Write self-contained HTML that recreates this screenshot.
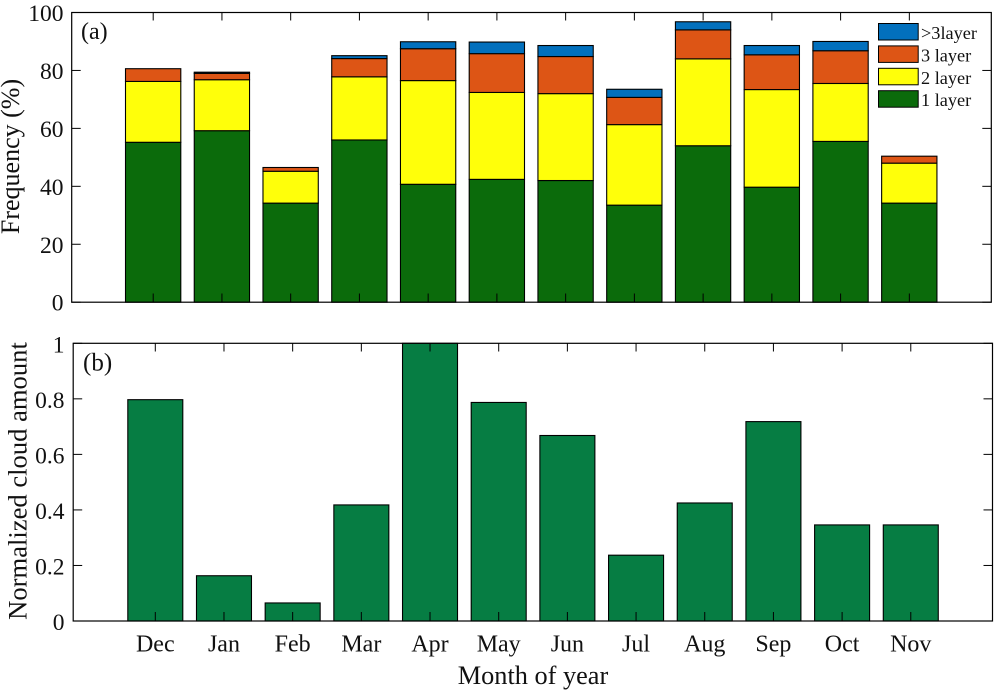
<!DOCTYPE html>
<html>
<head>
<meta charset="utf-8">
<title>Cloud layers by month</title>
<style>
html,body{margin:0;padding:0;background:#fff;}
svg{display:block;}
text{font-family:"Liberation Serif",serif;fill:#111;}
</style>
</head>
<body>
<svg id="chart" width="1000" height="696" viewBox="0 0 1000 696" xmlns="http://www.w3.org/2000/svg"></svg>
<script>
const months = ['Dec','Jan','Feb','Mar','Apr','May','Jun','Jul','Aug','Sep','Oct','Nov'];
const layer1 = [55.2,59.2,34.2,56,40.7,42.4,42,33.5,54,39.7,55.5,34.2];
const layer2 = [21,17.6,11,21.8,35.8,30,30,27.8,30,33.7,20,13.8];
const layer3 = [4.4,2.2,1.3,6.3,11,13.4,12.8,9.4,10,12,11.3,2.4];
const layer4 = [0,0.4,0,1,2.4,4,3.8,2.8,2.8,3.2,3.2,0];
const cloudAmount = [0.797,0.163,0.065,0.418,1,0.787,0.668,0.237,0.425,0.718,0.346,0.346];
const topTicks = [0,20,40,60,80,100];
const bottomTicks = [0,0.2,0.4,0.6,0.8,1];
const legendLabels = ['>3layer','3 layer','2 layer','1 layer'];

const svg = document.getElementById('chart');
const NS = 'http://www.w3.org/2000/svg';
function make(tag, attrs, txt){
  const e = document.createElementNS(NS, tag);
  for(const k in attrs) e.setAttribute(k, attrs[k]);
  if(txt !== undefined) e.textContent = txt;
  svg.appendChild(e);
  return e;
}
const xTop = i => 153.2 + i*68.74;
const xBot = i => 155.3 + i*68.68;
const yTop = v => 302.2 - v*2.897;
const yBot = v => 621 - v*277.7;
const colors = ['#0b6b0b','#ffff0a','#dd5515','#0270bd'];
const series = [layer1,layer2,layer3,layer4];
const seriesNames = ['1-layer','2-layer','3-layer','over-3-layer'];

// stacked bars
months.forEach((m,i)=>{
  let base = 0;
  series.forEach((s,j)=>{
    if(s[i] <= 0) return;
    const r = make('rect',{x:xTop(i)-27.7,y:yTop(base+s[i]),width:55.3,height:yTop(base)-yTop(base+s[i]),fill:colors[j],stroke:'#000','stroke-width':1.1});
    
    
    base += s[i];
  });
});

// normalized bars
months.forEach((m,i)=>{
  const r = make('rect',{x:xBot(i)-27.5,y:yBot(cloudAmount[i]),width:55,height:yBot(0)-yBot(cloudAmount[i]),fill:'#067d43',stroke:'#000','stroke-width':1.1});
  
  
});

// axes frames
const frameA = make('rect',{x:71.7,y:12.5,width:919.6,height:289.7,fill:'none',stroke:'#000','stroke-width':1.2});


const frameB = make('rect',{x:73.2,y:343.3,width:919.3,height:277.7,fill:'none',stroke:'#000','stroke-width':1.2});



// x ticks and labels
months.forEach((m,i)=>{
  [[xTop(i),302.2,293.5],[xTop(i),12.5,20.5],[xBot(i),621,612],[xBot(i),343.3,351.5]].forEach(t=>{
    const l = make('line',{x1:t[0],x2:t[0],y1:t[1],y2:t[2],stroke:'#000','stroke-width':1});
    
    
  });
  const lab = make('text',{x:xBot(i),y:651.5,'text-anchor':'middle','font-size':24}, m);
  
  
});

// y ticks and labels, top
topTicks.forEach(v=>{
  [[71.7,80.7],[991.3,982.3]].forEach(p=>{
    const l = make('line',{x1:p[0],x2:p[1],y1:yTop(v),y2:yTop(v),stroke:'#000','stroke-width':1});
    
    
  });
  const lab = make('text',{x:63.5,y:yTop(v)+8.5,'text-anchor':'end','font-size':23.5}, String(v));
  
  
});

// y ticks and labels, bottom
bottomTicks.forEach(v=>{
  [[73.2,82.2],[992.5,983.5]].forEach(p=>{
    const l = make('line',{x1:p[0],x2:p[1],y1:yBot(v),y2:yBot(v),stroke:'#000','stroke-width':1});
    
    
  });
  const lab = make('text',{x:64.5,y:yBot(v)+9,'text-anchor':'end','font-size':23.5}, String(v));
  
  
});

// titles and panel labels
const t1 = make('text',{x:0,y:0,transform:'translate(19,156.5) rotate(-90)','text-anchor':'middle','font-size':26}, 'Frequency (%)');


const t2 = make('text',{x:0,y:0,transform:'translate(26.5,481) rotate(-90)','text-anchor':'middle','font-size':26.6}, 'Normalized cloud amount');


const t3 = make('text',{x:533,y:684,'text-anchor':'middle','font-size':26.3}, 'Month of year');


const p1 = make('text',{x:81,y:39,'font-size':24}, '(a)');


const p2 = make('text',{x:83,y:370.5,'font-size':25}, '(b)');



// legend
const legendColors = ['#0270bd','#dd5515','#ffff0a','#0b6b0b'];
legendLabels.forEach((name,i)=>{
  const ly = 23.5 + i*22.4;
  const sw = make('rect',{x:878.5,y:ly,width:39.7,height:16.5,fill:legendColors[i],stroke:'#000','stroke-width':1});
  
  
  const tx = make('text',{x:921,y:ly+15.5,'font-size':18.3}, name);
  
  
});
</script>
</body>
</html>
